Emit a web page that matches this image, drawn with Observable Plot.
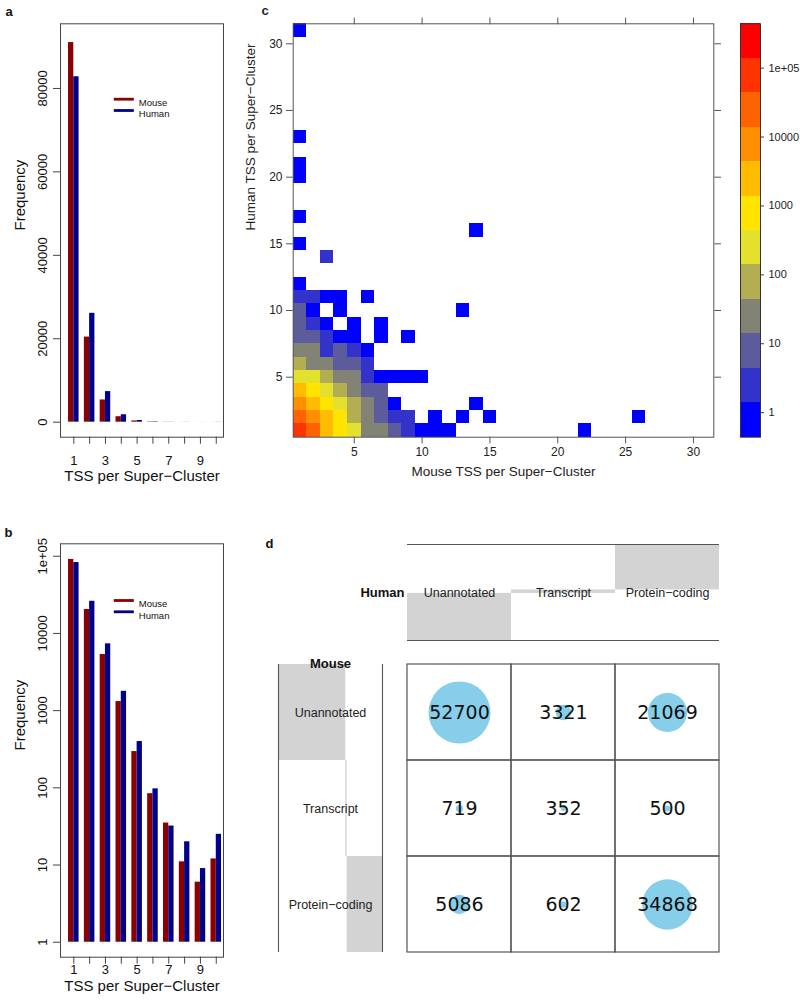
<!DOCTYPE html>
<html><head><meta charset="utf-8">
<script src="https://cdn.jsdelivr.net/npm/d3@7"></script>
<script src="https://cdn.jsdelivr.net/npm/@observablehq/plot@0.6"></script>
<style>
body{margin:0;background:#fff;}
#root{position:relative;width:800px;height:1001px;overflow:hidden;background:#fff;}
.p{position:absolute;}
</style></head><body><div id="root"></div>
<script>
// ---------- data: panels a & b ----------
const tssCounts = [1,2,3,4,5,6,7,8,9,10];
const mouseFreq = [91000,20400,5330,1310,295,84,35,11,6,12];
const humanFreq = [82800,26100,7330,1780,398,97,32,20,9,25];
const speciesNames = ["Mouse","Human"];
const speciesColors = ["#8b0000","#00008b"];
const linearTicks = [0,20000,40000,60000,80000];
const logTicks = [1,10,100,1000,10000,100000];

// ---------- data: panel c ----------
const heatMouseTSS = [
 1,2,3,4,5,6,7,8,9,10,11,12,22,
 1,2,3,4,5,6,7,8,9,11,13,15,26,
 1,2,3,4,5,6,7,8,14,
 1,2,3,4,5,6,7,
 1,2,3,4,5,6,7,8,9,10,
 1,2,3,4,5,6,
 1,2,3,4,5,6,
 1,2,3,4,5,7,9,
 1,2,3,5,7,
 1,2,4,13,
 1,2,3,4,6,
 1,3,1,14,1,1,1,1,1];
const heatHumanTSS = [
 1,1,1,1,1,1,1,1,1,1,1,1,1,
 2,2,2,2,2,2,2,2,2,2,2,2,2,
 3,3,3,3,3,3,3,3,3,
 4,4,4,4,4,4,4,
 5,5,5,5,5,5,5,5,5,5,
 6,6,6,6,6,6,
 7,7,7,7,7,7,
 8,8,8,8,8,8,8,
 9,9,9,9,9,
 10,10,10,10,
 11,11,11,11,11,
 12,14,15,16,17,20,21,23,31];
const heatCount = [
 65000,16000,3100,820,190,35,18,9,3,1,1,1,1,
 18500,6200,1900,560,120,30,11,4,2,1,1,1,1,
 5200,2100,700,210,60,19,6,1,1,
 1500,620,230,75,22,7,5,
 320,160,65,28,15,3,1,1,1,1,
 90,40,16,9,6,2,
 30,15,3,5,2,1,
 12,7,2,1,1,1,1,
 6,3,1,1,1,
 5,1,1,1,
 3,2,1,1,1,
 1,2,1,1,1,1,1,1,1];
const heatTicks = [5,10,15,20,25,30];
const colorBreaks = [1.39,4.4,13.9,44,139,440,1390,4400,13900,44000,139000];
const colorKeyLimits = [0.44,440000];
const colorKeyColors = ["#0000ff","#3333cc","#5c5c9c","#838375","#b3ae52","#e3e02e","#ffe400","#ffbc00","#ff8f00","#ff6200","#ff3300","#ff0000"];
const colorKeyTicks = [1,10,100,1000,10000,100000];

// ---------- data: panel d ----------
const annotCategories = ["Unannotated","Transcript","Protein−coding"];
const tableMouse = ["Unannotated","Unannotated","Unannotated","Transcript","Transcript","Transcript","Protein−coding","Protein−coding","Protein−coding"];
const tableHuman = ["Unannotated","Transcript","Protein−coding","Unannotated","Transcript","Protein−coding","Unannotated","Transcript","Protein−coding"];
const tableCount = [52700,3321,21069,719,352,500,5086,602,34868];

// ---------- helpers ----------
const FONT = "'Liberation Sans', Arial, Helvetica, sans-serif";
const root = document.getElementById("root");
function place(el, left, top){ const d=document.createElement("div"); d.className="p"; d.style.left=left+"px"; d.style.top=top+"px"; d.appendChild(el); root.appendChild(d); }
const lineSymbol = { draw(ctx){ ctx.moveTo(-10,-1.4); ctx.lineTo(10,-1.4); ctx.lineTo(10,1.4); ctx.lineTo(-10,1.4); ctx.closePath(); } };

const barRows = tssCounts.flatMap((t,i)=>[
  {t, species:"Mouse", x1:t-1/3, x2:t, v:mouseFreq[i]},
  {t, species:"Human", x1:t, x2:t+1/3, v:humanFreq[i]}
]);

function histPanel(o){
  const legend = speciesNames.flatMap((s,i)=>[
    Plot.dot([s], {frameAnchor:"top-left", dx:63.3, dy:o.legDy+i*11.3, symbol:lineSymbol, fill:speciesColors[i], stroke:"none"}),
    Plot.text([s], {frameAnchor:"top-left", dx:78.3, dy:o.legDy+i*11.3, textAnchor:"start", fontSize:9.5})
  ]);
  return Plot.plot({
    width:230, height:o.height, marginLeft:60, marginRight:7, marginTop:o.mt, marginBottom:o.mb,
    style:{fontFamily:FONT, fontSize:"13px", color:"#111", background:"transparent"},
    x:{domain:[0.16,10.457]},
    y:o.log ? {type:"log", domain:[0.64,144900]} : {domain:[-3600,95500]},
    color:{domain:speciesNames, range:speciesColors},
    marks:[
      Plot.rect(barRows, {x1:"x1", x2:"x2", y1:d=>o.log?1:0, y2:"v", fill:"species"}),
      Plot.frame({stroke:"#444"}),
      Plot.axisX({ticks:tssCounts, tickFormat:d=>d%2?String(d):"", tickSize:7, tickPadding:o.xPad, label:null, stroke:"#444"}),
      Plot.axisY({ticks:o.yTicks, tickFormat:o.yFmt, tickSize:7, tickPadding:11, tickRotate:-90, textAnchor:"middle", lineAnchor:"middle", label:null, stroke:"#444"}),
      Plot.text(["TSS per Super−Cluster"], {frameAnchor:"bottom", dy:o.titleDy, fontSize:15}),
      Plot.text(["Frequency"], {frameAnchor:"left", dx:-40, rotate:-90, fontSize:15}),
      ...legend,
      Plot.text([o.letter], {frameAnchor:"top-left", dx:o.letDx, dy:o.letDy, fontWeight:"bold", fontSize:13})
    ]
  });
}

// panel a
place(histPanel({log:false, height:497, mt:23.3, mb:60.3, xPad:12, titleDy:44, legDy:75.4,
  yTicks:linearTicks, yFmt:d=>String(d), letter:"a", letDx:-55, letDy:-17}), 0, 0);
// panel b
place(histPanel({log:true, height:501, mt:43.3, mb:44.3, xPad:1, titleDy:34, legDy:56.7,
  yTicks:logTicks, yFmt:d=>d===100000?"1e+05":String(d), letter:"b", letDx:-56, letDy:-16}), 0, 500);

// panel c heatmap
const heatData = heatMouseTSS.map((m,i)=>({m, h:heatHumanTSS[i], n:heatCount[i]}));
const colorScale = {type:"threshold", domain:colorBreaks, range:colorKeyColors};
place(Plot.plot({
  width:510, height:497, marginLeft:62.7, marginRight:26.7, marginTop:23.3, marginBottom:60.3,
  style:{fontFamily:FONT, fontSize:"12px", color:"#222", background:"transparent"},
  x:{domain:[0.5,31.5]}, y:{domain:[0.5,31.5]},
  color:colorScale,
  marks:[
    Plot.rect(heatData, {x1:d=>d.m-0.5, x2:d=>d.m+0.5, y1:d=>d.h-0.5, y2:d=>d.h+0.5, fill:"n", shapeRendering:"crispEdges"}),
    Plot.frame({stroke:"#555"}),
    Plot.axisX({anchor:"bottom", ticks:heatTicks, tickSize:6.7, tickPadding:4, label:null, stroke:"#555"}),
    Plot.axisX({anchor:"top", ticks:heatTicks, tickSize:6.7, tickFormat:()=>"", label:null, stroke:"#555"}),
    Plot.axisY({anchor:"left", ticks:heatTicks, tickSize:6.7, tickPadding:4, label:null, stroke:"#555"}),
    Plot.axisY({anchor:"right", ticks:heatTicks, tickSize:6.7, tickFormat:()=>"", label:null, stroke:"#555"}),
    Plot.text(["Mouse TSS per Super−Cluster"], {frameAnchor:"bottom", dy:38.5, fontSize:13.5}),
    Plot.text(["Human TSS per Super−Cluster"], {frameAnchor:"left", dx:-43, rotate:-90, fontSize:13.5}),
    Plot.text(["c"], {frameAnchor:"top-left", dx:-31.7, dy:-18, fontWeight:"bold", fontSize:13, fontFamily:FONT})
  ]
}), 230, 0);

// colour key
const keyEdges = [colorKeyLimits[0], ...colorBreaks, colorKeyLimits[1]].map(Math.log10);
const keyBands = colorKeyColors.map((c,i)=>({lo:keyEdges[i], hi:keyEdges[i+1], n:Math.pow(10,(keyEdges[i]+keyEdges[i+1])/2)}));
place(Plot.plot({
  width:70, height:497, marginLeft:10, marginRight:40, marginTop:23.3, marginBottom:60.3,
  style:{fontFamily:FONT, fontSize:"11px", color:"#222", background:"transparent"},
  y:{domain:[keyEdges[0], keyEdges[keyEdges.length-1]]},
  color:colorScale,
  marks:[
    Plot.rect(keyBands, {y1:"lo", y2:"hi", fill:"n", shapeRendering:"crispEdges"}),
    Plot.frame({stroke:"#333"}),
    Plot.axisY({anchor:"right", ticks:colorKeyTicks.map(Math.log10), tickFormat:d=>Math.round(d)===5?"1e+05":String(Math.pow(10,Math.round(d))), tickSize:3, tickPadding:5, label:null, stroke:"#444"})
  ]
}), 730, 0);

// ---------- panel d ----------
const tableRows = tableCount.map((n,i)=>({mouse:tableMouse[i], human:tableHuman[i], n}));
const humanTotals = annotCategories.map(c=>d3.sum(tableRows.filter(r=>r.human===c), r=>r.n));
const mouseTotals = annotCategories.map(c=>d3.sum(tableRows.filter(r=>r.mouse===c), r=>r.n));
function diverging(tot){ return [
  {cat:annotCategories[0], lo:-tot[0], hi:0},
  {cat:annotCategories[1], lo:0, hi:tot[1]},
  {cat:annotCategories[2], lo:tot[1], hi:tot[1]+tot[2]} ]; }
const humanBars = diverging(humanTotals), mouseBars = diverging(mouseTotals);
const hExt = [-humanTotals[0], humanTotals[1]+humanTotals[2]];
const mExt = [-mouseTotals[0], mouseTotals[1]+mouseTotals[2]];

// human marginal
place(Plot.plot({
  width:475, height:112, marginLeft:152, marginRight:11, marginTop:8, marginBottom:8,
  style:{fontFamily:FONT, fontSize:"12.5px", color:"#222", background:"transparent"},
  x:{type:"band", domain:annotCategories, padding:0, axis:null},
  y:{domain:hExt, axis:null},
  marks:[
    Plot.barY(humanBars, {x:"cat", y1:"lo", y2:"hi", fill:"#d3d3d3", inset:0}),
    Plot.ruleY(hExt, {stroke:"#555", strokeWidth:1.1}),
    Plot.text(annotCategories, {x:d=>d, text:d=>d, fontSize:12.5, fill:"#222"}),
    Plot.text(["Human"], {frameAnchor:"left", dx:-3, textAnchor:"end", fontWeight:"bold", fontSize:13, fill:"#111"}),
    Plot.text(["d"], {frameAnchor:"top-left", dx:-142, dy:-6, fontWeight:"bold", fontSize:13, fill:"#111"})
  ]
}), 255, 536);

// mouse marginal
place(Plot.plot({
  width:140, height:320, marginLeft:23, marginRight:13, marginTop:24, marginBottom:8,
  style:{fontFamily:FONT, fontSize:"12.5px", color:"#222", background:"transparent"},
  y:{type:"band", domain:annotCategories, padding:0, axis:null},
  x:{domain:mExt, axis:null},
  marks:[
    Plot.barX(mouseBars, {y:"cat", x1:"lo", x2:"hi", fill:"#d3d3d3", inset:0}),
    Plot.ruleX(mExt, {stroke:"#555", strokeWidth:1.1}),
    Plot.text(annotCategories, {y:d=>d, text:d=>d, fontSize:12.5, fill:"#222"}),
    Plot.text(["Mouse"], {frameAnchor:"top", dy:-6, fontWeight:"bold", fontSize:13, fill:"#111"})
  ]
}), 255, 640);

// contingency table
place(Plot.plot({
  width:330, height:310, marginLeft:7, marginRight:11, marginTop:9, marginBottom:13,
  style:{fontFamily:"'DejaVu Sans', sans-serif", fontSize:"19px", color:"#111", background:"transparent"},
  x:{type:"band", domain:annotCategories, padding:0, axis:null},
  y:{type:"band", domain:annotCategories, padding:0, axis:null},
  r:{type:"sqrt", domain:[0, d3.max(tableCount)], range:[0,31]},
  marks:[
    Plot.dot(tableRows, {x:"human", y:"mouse", r:"n", fill:"#87ceeb", stroke:"none"}),
    Plot.cell(tableRows, {x:"human", y:"mouse", fill:"none", stroke:"#555", strokeWidth:1.2, inset:0}),
    Plot.text(tableRows, {x:"human", y:"mouse", text:d=>String(d.n), fontSize:19, fill:"#111"})
  ]
}), 400, 655);
</script></body></html>
